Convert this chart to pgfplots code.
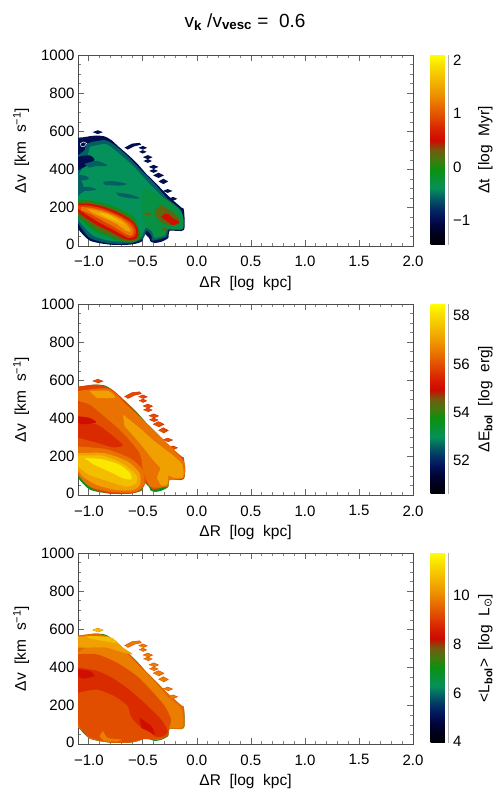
\documentclass[border=0pt]{standalone}
\usepackage{fontspec}
\setmainfont{Liberation Sans}
\newfontfamily\symb{DejaVu Sans}
\usepackage{pgfplots}
\usepackage{pgfplotstable}
\pgfplotsset{compat=1.18}

% colour table, steps of 5 percent
\pgfplotsset{colormap={idl}{
  rgb255=(0,0,8) rgb255=(0,0,24) rgb255=(0,4,56) rgb255=(2,20,90) rgb255=(3,50,100)
  rgb255=(4,95,100) rgb255=(5,145,90) rgb255=(8,145,50) rgb255=(12,145,15) rgb255=(70,120,15)
  rgb255=(115,90,15) rgb255=(205,10,0) rgb255=(215,30,0) rgb255=(222,60,0) rgb255=(228,90,0)
  rgb255=(234,120,0) rgb255=(238,150,0) rgb255=(242,175,0) rgb255=(246,200,0) rgb255=(250,225,0)
  rgb255=(255,255,0)}}

\definecolor{c13}{RGB}{2,14,78}
\definecolor{c25}{RGB}{4,95,100}
\definecolor{c30}{RGB}{5,145,90}
\definecolor{c33}{RGB}{7,145,66}
\definecolor{c38}{RGB}{10,145,28}
\definecolor{c47}{RGB}{96,102,15}
\definecolor{c56}{RGB}{207,14,0}
\definecolor{c60}{RGB}{215,30,0}
\definecolor{c62}{RGB}{218,42,0}
\definecolor{c66}{RGB}{223,66,0}
\definecolor{c68}{RGB}{225,78,0}
\definecolor{c72}{RGB}{230,102,0}
\definecolor{c74}{RGB}{233,114,0}
\definecolor{c76}{RGB}{235,126,0}
\definecolor{c82}{RGB}{240,160,0}
\definecolor{c88}{RGB}{244,190,0}
\definecolor{c96}{RGB}{251,232,0}

% outer edge of the covered region, the same in all panels
\pgfplotstableread{
x y
-1.10 567
-1.04 570
-0.99 575
-0.93 578
-0.855 574
-0.79 554
-0.73 523
-0.65 484
-0.59 453
-0.53 418
-0.47 379
-0.39 335
-0.30 282
-0.22 239
-0.14 200
-0.12 190
-0.12 84
-0.25 80
-0.265 42
-0.33 22
-0.39 16
-0.43 24
-0.44 40
-0.49 66
-0.50 30
-0.53 18
-0.62 7
-0.80 7
-0.99 28
-1.10 90
}\outline

\pgfplotstableread{
x y
-1.10 475
-1.04 502
-1.01 537
-0.855 554
-0.76 528
-0.65 475
-0.53 405
-0.39 326
-0.27 247
-0.145 186
-0.13 90
-0.26 84
-0.28 49
-0.41 28
-0.42 54
-0.465 81
-0.50 37
-0.62 14
-0.81 14
-0.99 42
-1.085 107
-1.10 125
}\inset

% detached cells along the upper edge
\pgfplotstableread{
x y
-0.965 596
-0.917 606
-0.87 596
-0.917 586
nan nan
-0.67 515
-0.60 536
-0.53 540
-0.515 530
-0.58 522
-0.64 505
nan nan
-0.54 514
-0.50 524
-0.46 514
-0.50 504
nan nan
-0.535 493
-0.50 502
-0.465 493
-0.50 484
nan nan
-0.50 465
-0.454 476
-0.41 465
-0.454 454
nan nan
-0.495 445
-0.454 455
-0.415 445
-0.454 435
nan nan
-0.445 414
-0.40 425
-0.355 414
-0.40 403
nan nan
-0.44 393
-0.40 403
-0.36 393
-0.40 383
nan nan
-0.405 370
-0.355 384
-0.305 370
-0.355 356
nan nan
-0.355 338
-0.31 352
-0.265 338
-0.31 324
nan nan
-0.315 288
-0.27 298
-0.225 288
-0.27 278
nan nan
-0.265 247
-0.22 257
-0.18 247
-0.22 237
}\blobs

\pgfplotsset{
  panel/.style={
    anchor=south west, scale only axis, width=335pt, height=191pt,
    xmin=-1.1, xmax=2.0, ymin=0, ymax=1000,
    xtick={-1,-0.5,0,0.5,1,1.5,2},
    xticklabels={−1.0,−0.5,0.0,0.5,1.0,1.5,2.0},
    ytick={0,200,400,600,800,1000},
    yticklabels={\raisebox{4pt}{0},200,400,600,800,\raisebox{-4pt}{1000}},
    minor x tick num=4, minor y tick num=3,
    tick align=inside, major tick length=6pt, minor tick length=3pt,
    tick style={black!60, line width=0.7pt},
    minor tick style={black!50, line width=0.6pt},
    axis line style={black!70, line width=0.8pt},
    every tick label/.style={font=\fontsize{15}{16}\selectfont},
    xticklabel style={yshift=-7pt},
    label style={font=\fontsize{15.5}{17}\selectfont},
    xlabel={ΔR~~[log~~kpc]},
    ylabel={Δv~~[km~~s\textsuperscript{−1}]},
    xlabel style={at={(axis description cs:0.5,-0.195)},anchor=center},
    ylabel style={at={(axis description cs:-0.17,0.5)},anchor=center},
    colormap name=idl,
    colorbar,
  },
  bar/.style={
    at={(parent axis.north east)}, anchor=north west, xshift=9pt,
    width=18pt, height=190pt, scale only axis,
    axis line style={draw=none}, major tick length=0pt,
    yticklabel style={font=\fontsize{15}{16}\selectfont, xshift=1pt},
    ylabel style={font=\fontsize{15.5}{17}\selectfont, at={(axis description cs:3.05,0.5)}, anchor=center, rotate=0},
    after end axis/.code={\draw[black!30, line width=1.5pt] (rel axis cs:1,0) -- (rel axis cs:1,1);},
  },
  layer/.style={draw=none, fill=#1, forget plot, unbounded coords=jump, smooth, tension=0.45},
  flat/.style={draw=none, fill=#1, forget plot, unbounded coords=jump},
}

\begin{document}
\begin{tikzpicture}[x=1pt,y=1pt]
\useasboundingbox (0,0) rectangle (500,800);
\node[font=\fontsize{19}{22}\selectfont] at (245,778)
  {v\textsubscript{\bfseries k}~/v\textsubscript{\bfseries vesc}~=~~0.6};

% ---- crossing time
\begin{axis}[panel, at={(78pt,554pt)},
  point meta min=-1.47, point meta max=2.107,
  colorbar style={bar, ytick={-1,0,1,2}, yticklabels={−1,0,1,2}, ylabel={Δt~~[log~~Myr]}}]
\addplot[layer=c13] table {\outline};
\addplot[flat=c13] table {\blobs};
\addplot[layer=c25] table {\inset};
\addplot[layer=c30] coordinates {(-0.99,519) (-0.84,533) (-0.72,484) (-0.58,414) (-0.44,326) (-0.315,256) (-0.19,186) (-0.145,160) (-0.14,95) (-0.27,98) (-0.29,63) (-0.39,42) (-0.41,72) (-0.47,98) (-0.515,46) (-0.62,23) (-0.81,28) (-0.96,54) (-1.07,116) (-1.10,151) (-1.10,256) (-1.04,291) (-1.07,344) (-1.10,361) (-1.055,414) (-1.01,475)};
\addplot[layer=c13] coordinates {(-1.10,467) (-0.994,475) (-0.948,449) (-1.04,414) (-1.10,396)};
\addplot[layer=c25] coordinates {(-1.04,430) (-0.93,446) (-0.85,430) (-0.83,418) (-0.93,418) (-1.0,410) (nan,nan)
  (-1.10,305) (-1.0,310) (-0.93,295) (-1.02,288) (-1.10,290) (nan,nan)
  (-0.87,335) (-0.78,340) (-0.65,325) (-0.72,316) (-0.85,320) (nan,nan)
  (-0.75,280) (-0.62,270) (-0.53,250) (-0.62,250) (-0.72,262) (nan,nan)
  (-1.10,375) (-1.02,365) (-1.0,350) (-1.10,340)};
\addplot[white, line width=0.5pt, forget plot] coordinates {(-1.08,535) (-1.05,545) (-1.02,537) (-1.04,522) (-1.07,522) (-1.08,535)};
\addplot[layer=c33] coordinates {(-0.50,309) (-0.377,274) (-0.222,221) (-0.135,168) (-0.13,90) (-0.27,90) (-0.30,54) (-0.39,46) (-0.42,81) (-0.485,107) (-0.515,204)};
\addplot[layer=c38] coordinates {(-1.10,239) (-0.99,239) (-0.84,221) (-0.685,186) (-0.58,151) (-0.53,81) (-0.515,46) (-0.59,19) (-0.70,23) (-0.81,46) (-0.93,72) (-1.055,125) (-1.10,151)};
\addplot[layer=c47] coordinates {(-0.39,186) (-0.33,212) (-0.27,195) (-0.207,168) (-0.16,133) (-0.207,107) (-0.30,116) (-0.377,151) (nan,nan)
  (-0.49,165) (-0.45,177) (-0.42,165) (-0.45,156) (nan,nan)
  (-0.33,88) (-0.30,96) (-0.27,86) (-0.30,78)};
\addplot[layer=c56] coordinates {(-0.30,168) (-0.268,168) (-0.237,151) (-0.16,125) (-0.222,110) (-0.284,133) (-0.33,151)};
\addplot[layer=c47] coordinates {(-1.10,226) (-0.99,230) (-0.84,209) (-0.685,174) (-0.585,133) (-0.54,72) (-0.545,37) (-0.61,23) (-0.70,32) (-0.81,58) (-0.93,90) (-1.055,142) (-1.10,160)};
\addplot[layer=c56] coordinates {(-1.10,221) (-0.99,221) (-0.855,204) (-0.70,168) (-0.585,125) (-0.545,85) (-0.55,45) (-0.61,30) (-0.70,44) (-0.79,72) (-0.917,107) (-1.04,151) (-1.10,177)};
\addplot[layer=c66] coordinates {(-1.10,212) (-0.99,211) (-0.855,193) (-0.716,160) (-0.605,122) (-0.565,84) (-0.575,52) (-0.63,42) (-0.70,62) (-0.79,90) (-0.90,122) (-1.01,160) (-1.10,195)};
\addplot[layer=c74] coordinates {(-1.07,204) (-0.96,198) (-0.84,181) (-0.716,151) (-0.63,118) (-0.585,85) (-0.60,55) (-0.65,60) (-0.76,98) (-0.87,132) (-0.98,166) (-1.07,186)};
\addplot[layer=c82] coordinates {(-1.02,196) (-0.87,179) (-0.73,147) (-0.65,114) (-0.61,78) (-0.65,78) (-0.74,114) (-0.84,142) (-0.96,170)};
\addplot[layer=c88] coordinates {(-0.917,174) (-0.82,165) (-0.73,133) (-0.67,112) (-0.74,128) (-0.84,151)};
\end{axis}

% ---- energy
\begin{axis}[panel, at={(78pt,305pt)},
  point meta min=50.6, point meta max=58.49,
  colorbar style={bar, ytick={52,54,56,58}, yticklabels={52,54,56,58}, ylabel={ΔE\textsubscript{\bfseries bol}~~[log~~erg]}}]
\addplot[layer=c38] table {\outline};
\addplot[layer=c66] coordinates {(-1.10,567) (-0.93,578) (-0.79,554) (-0.65,484) (-0.47,379) (-0.30,282) (-0.14,200) (-0.12,190) (-0.12,88) (-0.27,88) (-0.30,58) (-0.39,48) (-0.44,54) (-0.49,66) (-0.515,26) (-0.62,7) (-0.80,7) (-0.95,28) (-1.03,70) (-1.10,100)};
\addplot[flat=c68, draw=c62, line width=0.5pt] table {\blobs};
\addplot[layer=c68] table {\inset};
\addplot[layer=c62] coordinates {(-1.10,370) (-0.93,370) (-0.78,310) (-0.685,260) (-0.78,250) (-0.93,275) (-1.10,300)};
\addplot[layer=c56] coordinates {(-1.10,412) (-0.994,404) (-0.93,379) (-1.055,370) (-1.10,377)};
\addplot[layer=c74] coordinates {(-1.10,544) (-0.82,556) (-0.654,474) (-0.47,377) (-0.13,184) (-0.125,88) (-0.253,79) (-0.27,44) (-0.42,40) (-0.465,75) (-0.50,132) (-0.53,219) (-0.685,325) (-0.84,404) (-0.994,474) (-1.10,491)};
\addplot[layer=c82] coordinates {(-0.685,421) (-0.53,351) (-0.39,281) (-0.22,207) (-0.135,158) (-0.13,93) (-0.24,96) (-0.38,167) (-0.53,272) (-0.67,361) (nan,nan)
  (-0.994,544) (-0.82,544) (-0.76,509) (-0.93,509) (nan,nan)
  (-0.33,151) (-0.27,140) (-0.27,60) (-0.33,50) (-0.37,90)};
\addplot[layer=c74] coordinates {(-1.10,254) (-0.84,240) (-0.62,193) (-0.50,132) (-0.485,61) (-0.53,26) (-0.62,12) (-0.81,18) (-0.994,44) (-1.085,96) (-1.10,123)};
\addplot[layer=c82] coordinates {(-1.10,219) (-0.855,219) (-0.64,175) (-0.53,114) (-0.525,53) (-0.593,26) (-0.747,26) (-0.93,53) (-1.055,96) (-1.10,132)};
\addplot[layer=c88] coordinates {(-1.10,207) (-0.87,205) (-0.685,163) (-0.56,105) (-0.562,61) (-0.654,44) (-0.81,70) (-0.994,105) (-1.10,149)};
\addplot[layer=c96] coordinates {(-1.04,193) (-0.885,188) (-0.716,158) (-0.617,114) (-0.608,82) (-0.685,88) (-0.81,123) (-0.95,158)};
\end{axis}

% ---- mean luminosity
\begin{axis}[panel, at={(78pt,56pt)},
  point meta min=4, point meta max=11.7,
  colorbar style={bar, ytick={4,6,8,10}, yticklabels={\raisebox{3pt}{4},6,8,10}, ylabel={<L\textsubscript{\bfseries bol}>~~[log~~L\textsubscript{\symb ⊙}]}}]
\addplot[layer=c38] table {\outline};
\addplot[layer=c72] coordinates {(-1.10,567) (-0.93,578) (-0.79,554) (-0.65,484) (-0.47,379) (-0.30,282) (-0.14,200) (-0.12,190) (-0.12,84) (-0.25,80) (-0.265,48) (-0.33,26) (-0.39,20) (-0.43,30) (-0.44,44) (-0.49,66) (-0.50,30) (-0.53,18) (-0.62,7) (-0.80,7) (-0.99,28) (-1.04,62) (-1.10,85)};
\addplot[flat=c76, draw=c68, line width=0.5pt] table {\blobs};
\addplot[layer=c76] table {\inset};
\addplot[layer=c82] coordinates {(-1.10,563) (-0.81,561) (-0.685,505) (-0.593,470) (-0.685,479) (-0.84,505) (-0.994,505) (-1.10,505)};
\addplot[layer=c88] coordinates {(-1.025,567) (-0.81,558) (-0.73,528) (-0.87,540) (-0.994,553) (nan,nan)
  (-0.965,596) (-0.917,606) (-0.87,596) (-0.917,586)};
\addplot[layer=c68] coordinates {(-1.10,470) (-0.93,470) (-0.747,428) (-0.56,358) (-0.42,279) (-0.30,200) (-0.24,130) (-0.26,79) (-0.28,40) (-0.41,23) (-0.50,26) (-0.62,9) (-0.81,9) (-0.994,37) (-1.085,93) (-1.10,119)};
\addplot[layer=c62] coordinates {(-1.10,400) (-0.917,382) (-0.76,338) (-0.61,277) (-0.454,198) (-0.33,128) (-0.27,67) (-0.315,40) (-0.39,40) (-0.44,67) (-0.53,93) (-0.61,145) (-0.64,198) (-0.76,250) (-0.93,285) (-1.10,268)};
\addplot[layer=c56] coordinates {(-1.10,391) (-0.994,382) (-0.948,356) (-1.055,342) (-1.10,356) (nan,nan)
  (-0.53,137) (-0.42,93) (-0.39,49) (-0.45,67) (-0.515,84)};
\addplot[layer=c76] coordinates {(-0.90,40) (-0.87,67) (-0.825,32) (-0.70,23) (-0.74,12) (-0.86,14)};
\end{axis}
\end{tikzpicture}
\end{document}
